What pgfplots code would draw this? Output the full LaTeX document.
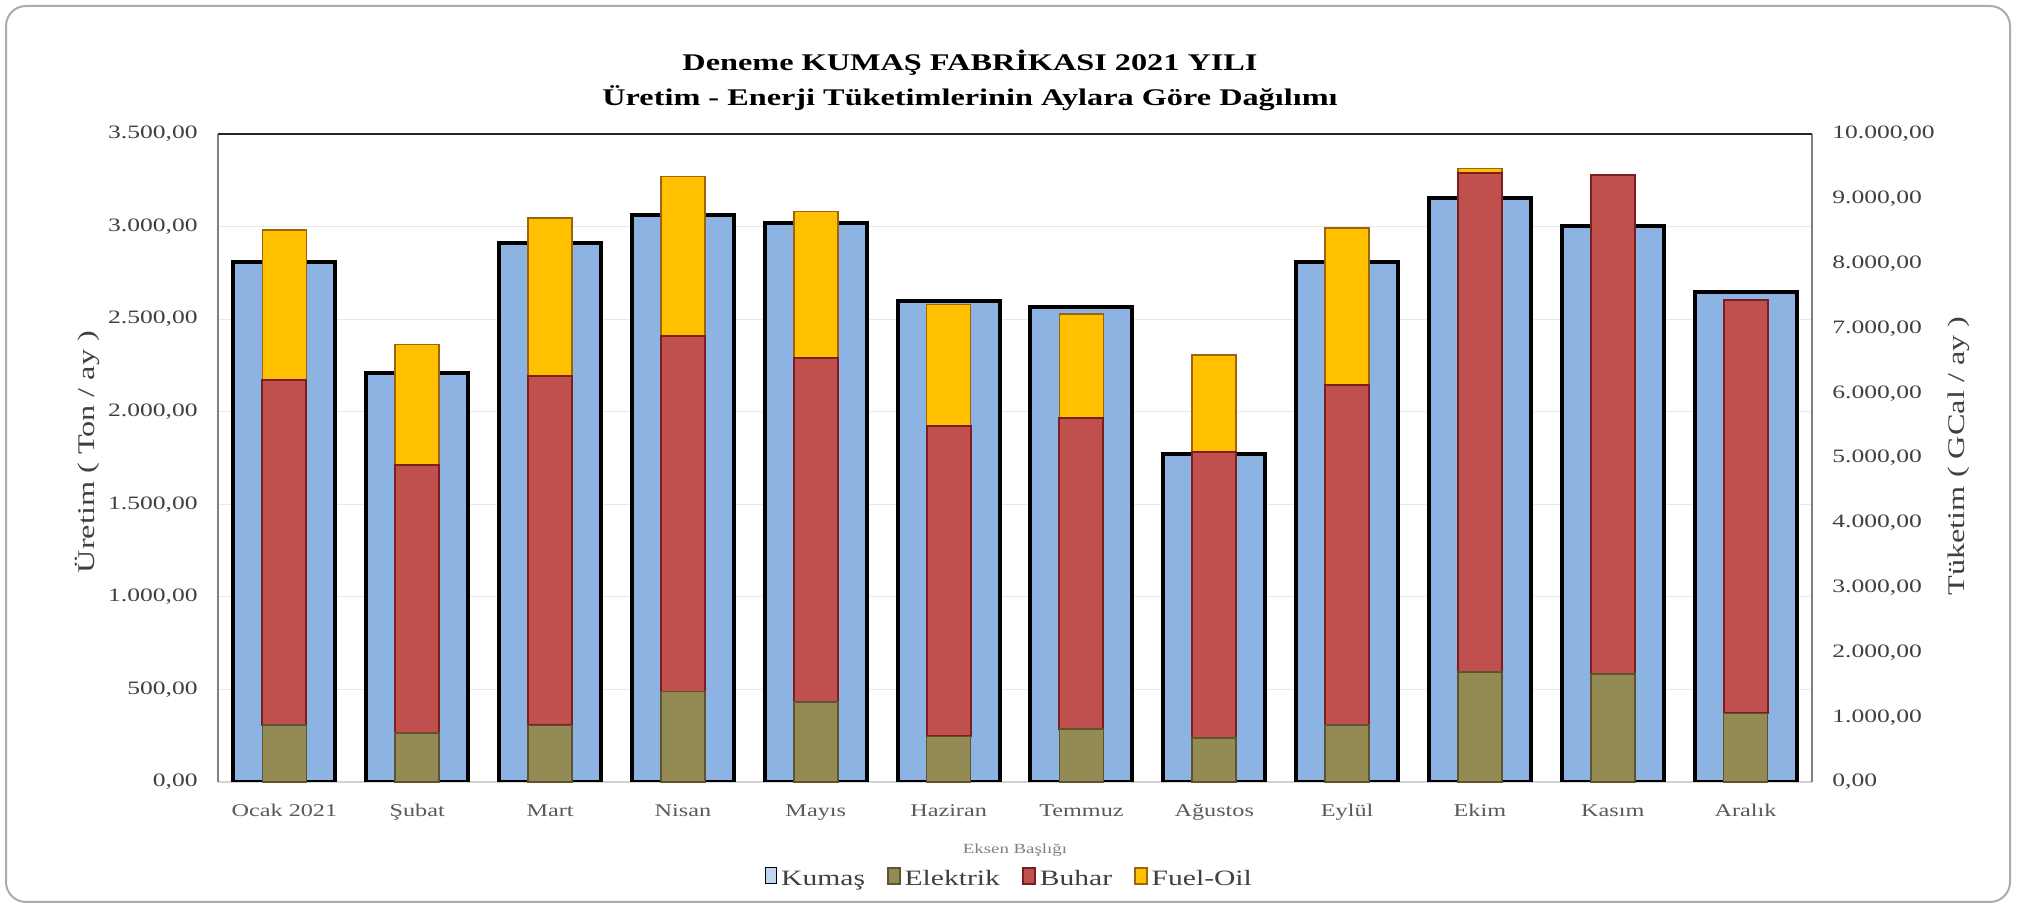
\documentclass[border=0pt]{standalone}
\usepackage{pgfplots}
\pgfplotsset{compat=1.18}
\usepackage{fontspec}
\setmainfont{Liberation Serif}[FakeStretch=1.35]

\definecolor{kumas}{HTML}{8DB3E2}
\definecolor{elektrik}{HTML}{948A54}
\definecolor{elektrikline}{HTML}{5C5530}
\definecolor{buhar}{HTML}{C0504D}
\definecolor{buharline}{HTML}{7A1F1D}
\definecolor{fuel}{HTML}{FFC000}
\definecolor{fuelline}{HTML}{9C6410}
\definecolor{txt}{HTML}{404040}
\definecolor{cat}{HTML}{595959}

\tikzset{sqleg/.style={legend image code/.code={\draw[##1, line width=1.3bp] (0bp,-3.5bp) rectangle (7bp,3.5bp);}}}

\pgfplotsset{
  base/.style={
    scale only axis, width=797bp, height=324bp,
    at={(109bp,63bp)}, anchor=south west,
    xmin=-0.5, xmax=11.5,
    major tick length=0pt, scaled y ticks=false,
    axis line style={-},
    /pgf/number format/use comma,
    /pgf/number format/1000 sep={.},
    /pgf/number format/fixed,
    /pgf/number format/fixed zerofill,
    /pgf/number format/precision=2,
    /pgf/number format/assume math mode=true,
  }
}

\begin{document}
\begin{tikzpicture}
\useasboundingbox (0,0) rectangle (1008.5bp,454bp);
\draw[gray!65, line width=1bp, rounded corners=10bp] (3bp,3bp) rectangle (1005bp,451bp);

% Production (left axis)
\begin{axis}[base,
  ybar, bar width=51bp,
  ymin=0, ymax=3500, ytick={0,500,...,3500},
  axis y line*=left, axis x line*=bottom,
  ymajorgrids, grid style={gray!18, line width=0.6bp},
  y axis line style={gray, line width=1bp},
  x axis line style={gray!35, line width=0.8bp},
  xtick={0,...,11},
  xticklabels={Ocak 2021,Şubat,Mart,Nisan,Mayıs,Haziran,Temmuz,Ağustos,Eylül,Ekim,Kasım,Aralık},
  xticklabel style={font=\fontsize{9}{10}\selectfont, text=cat, anchor=north, inner sep=0pt, yshift=-11bp},
  yticklabel style={font=\fontsize{9.5}{11}\selectfont, text=txt, anchor=east, inner sep=0pt, xshift=-10bp},
]
\addplot[fill=kumas, draw=black, line width=2bp] coordinates {
  (0,2810) (1,2210) (2,2912) (3,3062) (4,3020) (5,2600)
  (6,2565) (7,1770) (8,2810) (9,3155) (10,3005) (11,2645)};
\end{axis}

% Energy consumption (right axis)
\begin{axis}[base,
  ybar stacked, bar width=22bp, clip=false,
  ymin=0, ymax=10000, ytick={0,1000,...,10000},
  axis y line*=right, axis x line=none,
  y axis line style={gray, line width=1bp},
  yticklabel style={font=\fontsize{9.5}{11}\selectfont, text=txt, anchor=west, inner sep=0pt, xshift=10bp},
  legend style={draw=none, fill=none, at={(0.497,-0.151)}, anchor=center,
    legend columns=-1, font=\fontsize{11}{12}\selectfont, text=txt,
    /tikz/every even column/.append style={column sep=9bp}},
]
\addlegendimage{fill=kumas!55!white, draw=black, sqleg}
\addplot[fill=elektrik, draw=elektrikline, line width=0.8bp, sqleg] coordinates {
  (0,880) (1,756) (2,873) (3,1396) (4,1233) (5,705)
  (6,822) (7,683) (8,883) (9,1699) (10,1669) (11,1060)};
\addplot[fill=buhar, draw=buharline, line width=1bp, sqleg] coordinates {
  (0,5330) (1,4139) (2,5388) (3,5491) (4,5312) (5,4786)
  (6,4798) (7,4408) (8,5250) (9,7701) (10,7697) (11,6380)};
\addplot[fill=fuel, draw=fuelline, line width=0.8bp, sqleg] coordinates {
  (0,2310) (1,1857) (2,2438) (3,2454) (4,2257) (5,1875)
  (6,1606) (7,1503) (8,2412) (9,70)};
\legend{Kumaş, Elektrik, Buhar, Fuel-Oil}
\draw[black!85, line width=1.4bp] (rel axis cs:0,1) -- (rel axis cs:1,1);
\end{axis}

\node[font=\bfseries\fontsize{12}{14}\selectfont] at (485bp,422.5bp) {Deneme KUMAŞ FABRİKASI 2021 YILI};
\node[font=\bfseries\fontsize{12}{14}\selectfont] at (485bp,405bp) {Üretim - Enerji Tüketimlerinin Aylara Göre Dağılımı};
\node[rotate=90, font=\fontsize{12}{14}\selectfont, text=txt] at (43.5bp,228bp) {Üretim ( Ton / ay )};
\node[rotate=90, font=\fontsize{12}{14}\selectfont, text=txt] at (979.5bp,226bp) {Tüketim ( GCal / ay )};
\node[font=\fontsize{7}{8}\selectfont, text=gray] at (507.5bp,29bp) {Eksen Başlığı};
\end{tikzpicture}
\end{document}
